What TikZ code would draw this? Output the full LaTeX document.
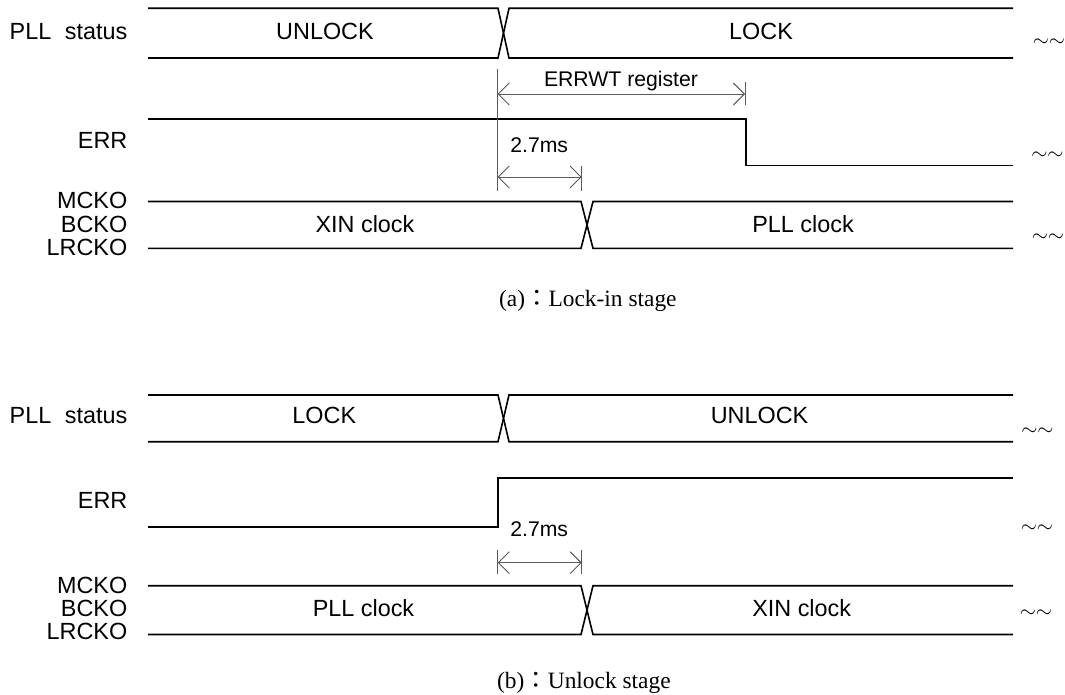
\documentclass[tikz,border=0pt]{standalone}
\usepackage{fontspec}
\setmainfont{Liberation Sans}
\newfontfamily\capfont{Liberation Serif}
\newfontfamily\cjkfont{Noto Sans CJK JP}
\usetikzlibrary{arrows.meta}
\begin{document}
\begin{tikzpicture}[x=1pt,y=-1pt,
  sig/.style={line width=1.6pt, black, line join=miter},
  dim/.style={line width=0.9pt, draw=black!65},
  dimarr/.style={dim, {Straight Barb[length=11pt,width=22pt,line width=0.9pt]}-{Straight Barb[length=11pt,width=22pt,line width=0.9pt]}},
  lab/.style={font=\fontsize{23.4}{26}\selectfont, inner sep=0pt, anchor=base east},
  val/.style={font=\fontsize{23.4}{26}\selectfont, inner sep=0pt, anchor=base},
  ann/.style={font=\fontsize{21.2}{24}\selectfont, inner sep=0pt, anchor=base},
  tld/.style={font=\fontsize{21.5}{26}\selectfont, inner sep=0pt, anchor=center},
  capt/.style={font=\fontsize{23.4}{26}\selectfont, inner sep=0pt, anchor=base west}]
\useasboundingbox (0,0) rectangle (1065,695);

% ================= (a) Lock-in stage =================
\node[lab] (aPLL) at (127.5,40) {PLL\hspace{0.58em}status};
\node[lab] (aERR) at (127.5,148.4) {ERR};
\node[lab] (aMCKO) at (127.5,208.5) {MCKO};
\node[lab] (aBCKO) at (127.5,232) {BCKO};
\node[lab] (aLRCKO) at (127.5,255.5) {LRCKO};

\draw[sig] (148,8.3) -- (498,8.3) -- (509,58) -- (1013,58);
\draw[sig] (148,58) -- (498,58) -- (509,8.3) -- (1013,8.3);
\node[val] (aUNLOCK) at (325,40) {UNLOCK};
\node[val] (aLOCK) at (761,40) {LOCK};

\draw[sig] (148,119) -- (746,119) -- (746,165.5) -- (1013,165.5);

\draw[sig] (148,201.5) -- (581,201.5) -- (593,248.3) -- (1013,248.3);
\draw[sig] (148,248.3) -- (581,248.3) -- (593,201.5) -- (1013,201.5);
\node[val] (aXIN) at (365,232.4) {XIN clock};
\node[val] (aPLLc) at (803,232.4) {PLL clock};

% dimensions (a)
\coordinate (aE1) at (497.7,69);
\coordinate (aE2) at (497.7,191);
\draw[dim] (aE1) -- (aE2);
\coordinate (aR1) at (745,82);
\coordinate (aR2) at (745,105);
\draw[dim] (aR1) -- (aR2);
\coordinate (aAL) at (497.7,94);
\coordinate (aAR) at (745,94);
\draw[dimarr] (aAL) -- (aAR);
\node[ann] (aERRWT) at (621,87) {ERRWT register};

\coordinate (aT1) at (581.7,166);
\coordinate (aT2) at (581.7,191);
\draw[dim] (aT1) -- (aT2);
\coordinate (aBL) at (497.7,177);
\coordinate (aBR) at (581.7,177);
\draw[dimarr] (aBL) -- (aBR);
\node[ann] (aMS) at (539.2,153) {2.7ms};

\node[tld] (aTl1) at (1049,42.7) {$\sim\sim$};
\node[tld] (aTl2) at (1047.5,156) {$\sim\sim$};
\node[tld] (aTl3) at (1048,238) {$\sim\sim$};

\node[capt] (aCap) at (499,306) {\capfont (a)\cjkfont ：\capfont Lock-in stage};

% ================= (b) Unlock stage =================
\node[lab] (bPLL) at (127.5,423.4) {PLL\hspace{0.58em}status};
\node[lab] (bERR) at (127.5,508.4) {ERR};
\node[lab] (bMCKO) at (127.5,593.3) {MCKO};
\node[lab] (bBCKO) at (127.5,616.7) {BCKO};
\node[lab] (bLRCKO) at (127.5,639.3) {LRCKO};

\draw[sig] (148,395) -- (498,395) -- (509,441.7) -- (1013,441.7);
\draw[sig] (148,441.7) -- (498,441.7) -- (509,395) -- (1013,395);
\node[val] (bLOCK) at (324.3,423.4) {LOCK};
\node[val] (bUNLOCK) at (759.5,423.4) {UNLOCK};

\draw[sig] (148,526.7) -- (497.7,526.7) -- (497.7,478) -- (1013,478);

\draw[sig] (148,585.7) -- (581,585.7) -- (593,634.5) -- (1013,634.5);
\draw[sig] (148,634.5) -- (581,634.5) -- (593,585.7) -- (1013,585.7);
\node[val] (bPLLc) at (363.5,616.4) {PLL clock};
\node[val] (bXIN) at (801.7,616.4) {XIN clock};

% dimensions (b)
\coordinate (bT1) at (497.7,550);
\coordinate (bT2) at (497.7,574);
\draw[dim] (bT1) -- (bT2);
\coordinate (bT3) at (581.7,550);
\coordinate (bT4) at (581.7,574);
\draw[dim] (bT3) -- (bT4);
\coordinate (bBL) at (497.7,562.7);
\coordinate (bBR) at (581.7,562.7);
\draw[dimarr] (bBL) -- (bBR);
\node[ann] (bMS) at (539.2,536.7) {2.7ms};

\node[tld] (bTl1) at (1037.5,431.7) {$\sim\sim$};
\node[tld] (bTl2) at (1037,528.3) {$\sim\sim$};
\node[tld] (bTl3) at (1036,613.3) {$\sim\sim$};

\node[capt] (bCap) at (497,688.3) {\capfont (b)\cjkfont ：\capfont Unlock stage};
\end{tikzpicture}
\end{document}
